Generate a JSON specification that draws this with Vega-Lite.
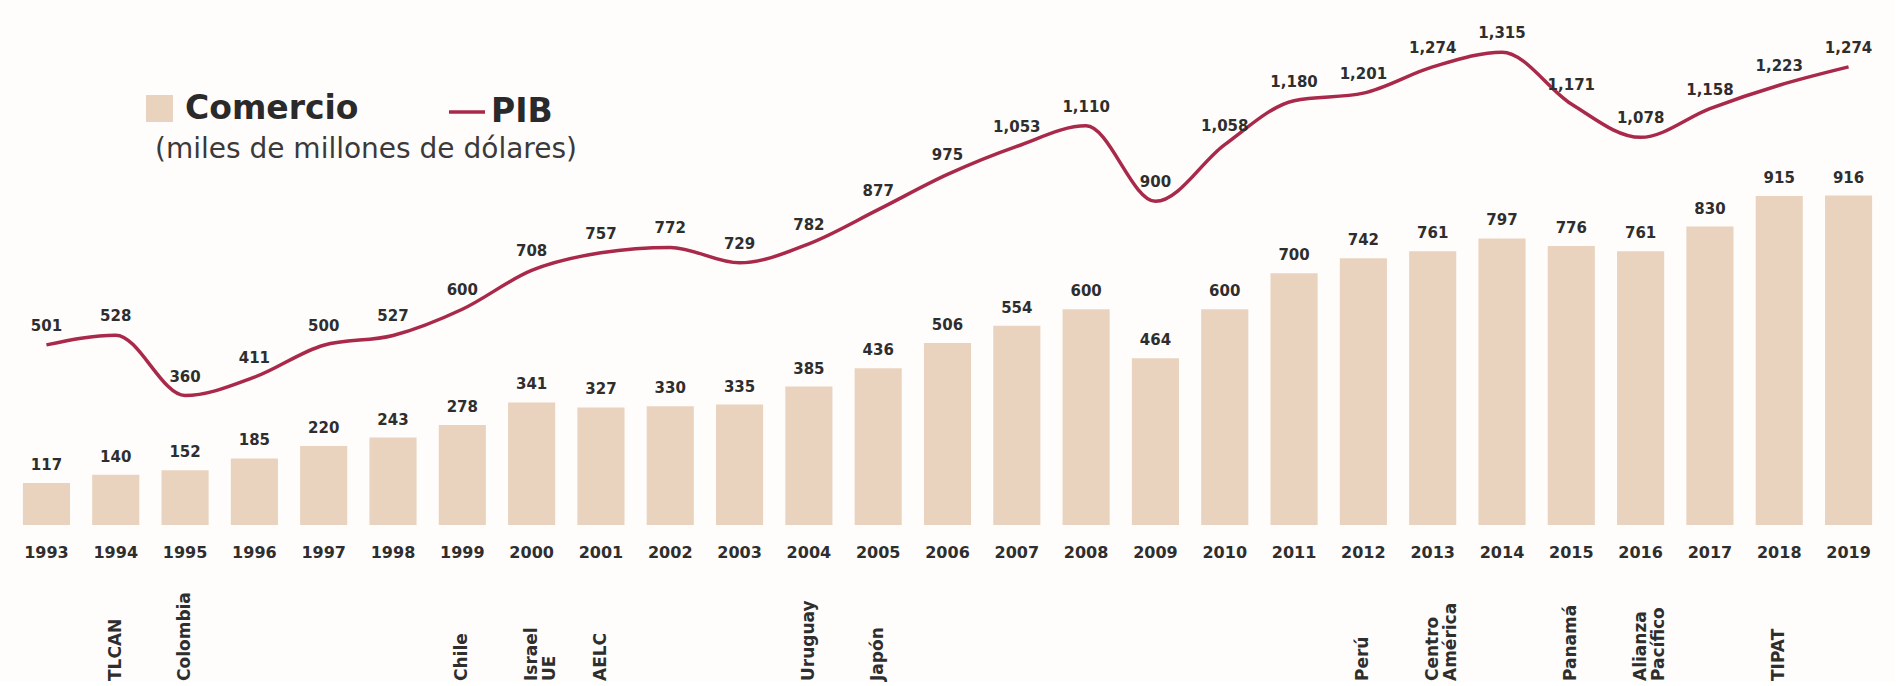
{
  "$schema": "https://vega.github.io/schema/vega-lite/v6.json",
  "width": 1895,
  "height": 525,
  "padding": 0,
  "background": "#fffdfb",
  "config": {
    "view": {"stroke": null},
    "font": "DejaVu Sans",
    "text": {"font": "DejaVu Sans"}
  },
  "data": {
    "values": [
      {"year": "1993", "comercio": 117, "pib": 501, "tratado": ""},
      {"year": "1994", "comercio": 140, "pib": 528, "tratado": "TLCAN"},
      {"year": "1995", "comercio": 152, "pib": 360, "tratado": "Colombia"},
      {"year": "1996", "comercio": 185, "pib": 411, "tratado": ""},
      {"year": "1997", "comercio": 220, "pib": 500, "tratado": ""},
      {"year": "1998", "comercio": 243, "pib": 527, "tratado": ""},
      {"year": "1999", "comercio": 278, "pib": 600, "tratado": "Chile"},
      {"year": "2000", "comercio": 341, "pib": 708, "tratado": "Israel\nUE"},
      {"year": "2001", "comercio": 327, "pib": 757, "tratado": "AELC"},
      {"year": "2002", "comercio": 330, "pib": 772, "tratado": ""},
      {"year": "2003", "comercio": 335, "pib": 729, "tratado": ""},
      {"year": "2004", "comercio": 385, "pib": 782, "tratado": "Uruguay"},
      {"year": "2005", "comercio": 436, "pib": 877, "tratado": "Japón"},
      {"year": "2006", "comercio": 506, "pib": 975, "tratado": ""},
      {"year": "2007", "comercio": 554, "pib": 1053, "tratado": ""},
      {"year": "2008", "comercio": 600, "pib": 1110, "tratado": ""},
      {"year": "2009", "comercio": 464, "pib": 900, "tratado": ""},
      {"year": "2010", "comercio": 600, "pib": 1058, "tratado": ""},
      {"year": "2011", "comercio": 700, "pib": 1180, "tratado": ""},
      {"year": "2012", "comercio": 742, "pib": 1201, "tratado": "Perú"},
      {"year": "2013", "comercio": 761, "pib": 1274, "tratado": "Centro\nAmérica"},
      {"year": "2014", "comercio": 797, "pib": 1315, "tratado": ""},
      {"year": "2015", "comercio": 776, "pib": 1171, "tratado": "Panamá"},
      {"year": "2016", "comercio": 761, "pib": 1078, "tratado": "Alianza\nPacífico"},
      {"year": "2017", "comercio": 830, "pib": 1158, "tratado": ""},
      {"year": "2018", "comercio": 915, "pib": 1223, "tratado": "TIPAT"},
      {"year": "2019", "comercio": 916, "pib": 1274, "tratado": ""}
    ]
  },
  "encoding": {
    "x": {
      "field": "year",
      "type": "nominal",
      "sort": null,
      "scale": {"paddingInner": 0.32, "paddingOuter": 0.33},
      "axis": {
        "title": null,
        "domain": false,
        "ticks": false,
        "tickSize": 0,
        "grid": false,
        "labelAngle": 0,
        "labelBaseline": "middle",
        "labelPadding": 27,
        "labelFont": "DejaVu Sans",
        "labelFontWeight": "bold",
        "labelFontSize": 16,
        "labelColor": "#2e2e2e"
      }
    }
  },
  "layer": [
    {
      "mark": {"type": "bar"},
      "encoding": {
        "y": {
          "field": "comercio",
          "type": "quantitative",
          "scale": {"domain": [0, 1460], "nice": false},
          "axis": null
        },
        "color": {
          "datum": "Comercio",
          "type": "nominal",
          "scale": {"domain": ["Comercio"], "range": ["#e9d3bf"]},
          "legend": {
            "orient": "none",
            "legendX": 143,
            "legendY": 92,
            "padding": 0,
            "title": "(miles de millones de dólares)",
            "titleOrient": "bottom",
            "titleAnchor": "start",
            "titleFont": "DejaVu Sans",
            "titleFontSize": 28,
            "titleFontWeight": "normal",
            "titleColor": "#3a3a3a",
            "titlePadding": 10,
            "titleLimit": 800,
            "labelFont": "DejaVu Sans",
            "labelFontSize": 33,
            "labelFontWeight": "bold",
            "labelColor": "#2a2a2a",
            "labelOffset": 9,
            "labelLimit": 600,
            "symbolType": "square",
            "symbolSize": 729,
            "symbolStrokeWidth": 0,
            "encode": {"title": {"update": {"dx": {"value": 12}}}}
          }
        }
      }
    },
    {
      "mark": {
        "type": "text",
        "baseline": "middle",
        "dy": -18,
        "fontSize": 15,
        "fontWeight": "bold",
        "color": "#2e2e2e"
      },
      "encoding": {
        "y": {"field": "comercio", "type": "quantitative"},
        "text": {"field": "comercio", "type": "quantitative", "format": ","}
      }
    },
    {
      "mark": {"type": "line", "interpolate": "monotone", "strokeWidth": 3.5},
      "encoding": {
        "y": {"field": "pib", "type": "quantitative"},
        "stroke": {
          "datum": "PIB",
          "type": "nominal",
          "scale": {"domain": ["PIB"], "range": ["#a9294a"]},
          "legend": {
            "orient": "none",
            "legendX": 447,
            "legendY": 92,
            "padding": 0,
            "title": null,
            "labelFont": "DejaVu Sans",
            "labelFontSize": 33,
            "labelFontWeight": "bold",
            "labelColor": "#2a2a2a",
            "labelOffset": 4,
            "labelLimit": 600,
            "symbolType": "stroke",
            "symbolSize": 1296,
            "symbolStrokeWidth": 3.5
          }
        }
      }
    },
    {
      "mark": {
        "type": "text",
        "baseline": "middle",
        "dy": -19,
        "fontSize": 15,
        "fontWeight": "bold",
        "color": "#2e2e2e"
      },
      "encoding": {
        "y": {"field": "pib", "type": "quantitative"},
        "text": {"field": "pib", "type": "quantitative", "format": ","}
      }
    },
    {
      "mark": {
        "type": "text",
        "angle": 270,
        "align": "left",
        "baseline": "middle",
        "dx": -156,
        "lineBreak": "\n",
        "lineHeight": 18,
        "fontSize": 17,
        "fontWeight": "bold",
        "color": "#2e2e2e"
      },
      "encoding": {
        "y": {"datum": 0, "type": "quantitative"},
        "text": {"field": "tratado", "type": "nominal"}
      }
    }
  ]
}
